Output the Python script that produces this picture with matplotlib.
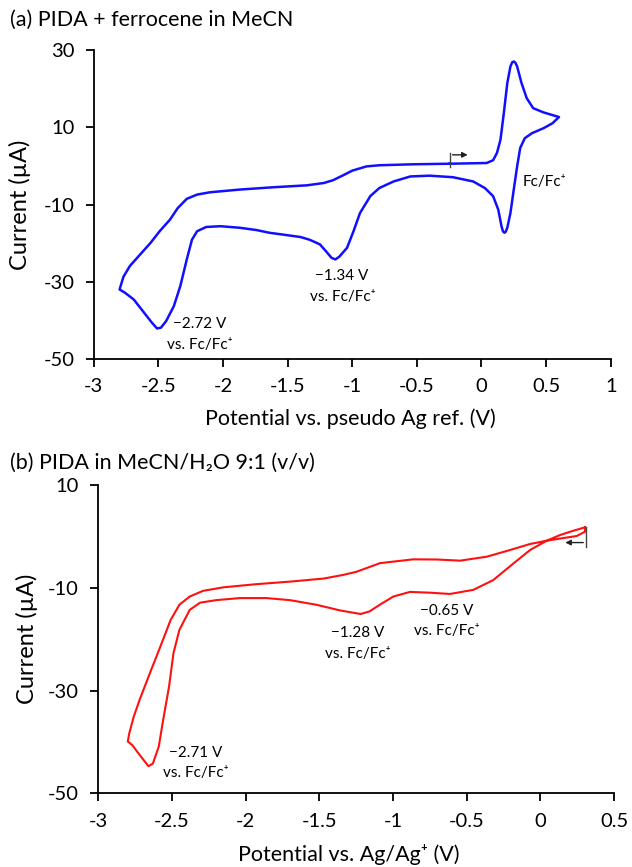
import matplotlib
matplotlib.use('Agg')
import matplotlib.pyplot as plt

plt.rcParams['font.family'] = ['Lato', 'DejaVu Sans']
plt.rcParams['axes.unicode_minus'] = False

# (a) PIDA + ferrocene in MeCN, scan starts at -0.25 V going positive
volt_a = [-0.245, 0.04, 0.09, 0.12, 0.147, 0.173, 0.20, 0.224, 0.238, 0.25, 0.262, 0.276,
          0.31, 0.35, 0.40, 0.48, 0.54, 0.60,
          0.55, 0.48, 0.39, 0.335, 0.30, 0.276, 0.25, 0.224, 0.20, 0.188, 0.178, 0.166,
          0.155, 0.13, 0.09, 0.026, -0.064, -0.22, -0.40, -0.55, -0.68, -0.79, -0.86,
          -0.94, -0.99, -1.04, -1.10, -1.13, -1.16, -1.20, -1.25, -1.33, -1.40, -1.53,
          -1.64, -1.74, -1.87, -2.02, -2.13, -2.20, -2.24, -2.28, -2.33, -2.38, -2.44,
          -2.48, -2.51, -2.55, -2.62, -2.69, -2.76, -2.80,
          -2.77, -2.72, -2.64, -2.56, -2.49, -2.41, -2.35, -2.28, -2.20, -2.10, -1.87,
          -1.61, -1.35, -1.22, -1.15, -1.07, -1.0, -0.89, -0.79, -0.53, -0.245]
curr_a = [0.6, 0.78, 1.5, 3.4, 6.8, 13.7, 21.5, 25.8, 26.9, 27.1, 26.8, 25.8,
          21.5, 17.6, 15.0, 13.9, 13.3, 12.7,
          11.1, 9.8, 8.5, 7.2, 4.7, -0.1, -6.1, -12.2, -16.0, -17.0, -17.3, -16.9,
          -15.6, -11.3, -7.8, -5.7, -4.0, -2.9, -2.5, -2.7, -4.0, -5.7, -7.8,
          -12.2, -16.9, -21.2, -23.5, -24.2, -23.8, -22.2, -20.3, -19.1, -18.4, -17.8,
          -17.3, -16.6, -16.0, -15.6, -15.8, -16.9, -19.1, -24.2, -31.1, -36.3, -40.2,
          -41.9, -42.1, -40.6, -37.6, -34.6, -32.8, -32.0,
          -28.7, -25.9, -22.9, -19.9, -16.9, -13.9, -10.9, -8.5, -7.4, -6.8, -6.1,
          -5.5, -5.0, -4.4, -3.7, -2.4, -1.2, -0.1, 0.2, 0.45, 0.6]

# (b) PIDA in MeCN/H2O 9:1, scan starts at 0.30 V going negative
volt_b = [0.303, 0.303, 0.247, 0.145, 0.043, -0.07, -0.18, -0.32, -0.455, -0.614, -0.75,
          -0.885, -0.998, -1.09, -1.16, -1.22, -1.36, -1.52, -1.70, -1.86, -2.04, -2.20,
          -2.31, -2.38, -2.45, -2.49, -2.52, -2.56, -2.59, -2.63, -2.66, -2.72, -2.77,
          -2.80,
          -2.79, -2.76, -2.72, -2.65, -2.58, -2.51, -2.45, -2.38, -2.29, -2.15, -1.93,
          -1.70, -1.47, -1.34, -1.25, -1.088, -0.862, -0.70, -0.545, -0.364, -0.206,
          -0.07, 0.043, 0.134, 0.224, 0.303]
curr_b = [1.77, 0.92, 0.08, -0.37, -0.84, -2.65, -5.2, -8.5, -10.4, -11.2, -10.95,
          -10.8, -11.7, -13.3, -14.6, -15.1, -14.4, -13.3, -12.4, -12.0, -12.0, -12.4,
          -12.9, -14.3, -18.2, -22.7, -29.2, -35.7, -40.9, -44.2, -44.7, -42.5, -40.6,
          -39.9,
          -38.3, -35.1, -31.8, -26.6, -21.5, -16.3, -13.3, -11.7, -10.6, -9.9, -9.3,
          -8.8, -8.2, -7.5, -6.9, -5.2, -4.46, -4.5, -4.72, -3.95, -2.65,
          -1.48, -0.84, 0.27, 1.1, 1.77]

ticks_x_a = [-3, -2.5, -2, -1.5, -1, -0.5, 0, 0.5, 1]
ticks_y_a = [30, 10, -10, -30, -50]
ticks_x_b = [-3, -2.5, -2, -1.5, -1, -0.5, 0, 0.5]
ticks_y_b = [10, -10, -30, -50]

fig = plt.figure(figsize=(6.32, 8.67), dpi=100)
ax1 = fig.add_axes([0.1483, 0.586, 0.818, 0.356])
ax2 = fig.add_axes([0.1556, 0.0849, 0.816, 0.3557])


def style_axes(ax, xt, yt, xlim, ylim, xlabel, xlab_x, xlab_y, ylab_x):
    ax.set_xlim(*xlim)
    ax.set_ylim(*ylim)
    ax.set_xticks(xt)
    ax.set_xticklabels([f'{v:g}' for v in xt])
    ax.set_yticks(yt)
    ax.set_yticklabels([f'{v:g}' for v in yt])
    ax.spines['top'].set_visible(False)
    ax.spines['right'].set_visible(False)
    ax.spines['left'].set_linewidth(1.3)
    ax.spines['bottom'].set_linewidth(1.3)
    ax.tick_params(direction='out', length=6, width=1.3, labelsize=14.5)
    ax.tick_params(axis='x', pad=8)
    ax.tick_params(axis='y', pad=8)
    ax.set_ylabel('Current (µA)', fontsize=17)
    ax.yaxis.set_label_coords(ylab_x, 0.5)
    ax.set_xlabel(xlabel, fontsize=15.5)
    ax.xaxis.set_label_coords(xlab_x, xlab_y)


ax1.plot(volt_a, curr_a, color='#1010ff', lw=1.8, solid_joinstyle='round')
style_axes(ax1, ticks_x_a, ticks_y_a, (-3, 1), (-50, 30),
           'Potential vs. pseudo Ag ref. (V)', 0.497, -0.16, -0.121)
ax1.plot([-0.245, -0.245], [-0.3, 3.4], color='#444444', lw=1.0)
ax1.annotate('', xy=(-0.085, 2.9), xytext=(-0.245, 2.9),
             arrowprops=dict(arrowstyle='-|>', color='#222222', lw=1.0, mutation_scale=8))
ax1.text(-2.18, -40.9, '−2.72 V', ha='center', va='center', fontsize=11)
ax1.text(-2.18, -46.4, 'vs. Fc/Fc⁺', ha='center', va='center', fontsize=11)
ax1.text(-1.08, -28.6, '−1.34 V', ha='center', va='center', fontsize=11)
ax1.text(-1.07, -34.0, 'vs. Fc/Fc⁺', ha='center', va='center', fontsize=11)
ax1.text(0.32, -4.2, 'Fc/Fc⁺', ha='left', va='center', fontsize=11)
fig.text(0.016, 0.977, '(a) PIDA + ferrocene in MeCN', fontsize=15.5, va='center')

ax2.plot(volt_b, curr_b, color='#ff1010', lw=1.5, solid_joinstyle='round')
style_axes(ax2, ticks_x_b, ticks_y_b, (-3, 0.5), (-50, 10),
           'Potential vs. Ag/Ag⁺ (V)', 0.485, -0.165, -0.117)
ax2.plot([0.31, 0.31], [-2.1, 1.9], color='#444444', lw=1.0)
ax2.annotate('', xy=(0.15, -1.2), xytext=(0.31, -1.2),
             arrowprops=dict(arrowstyle='-|>', color='#222222', lw=1.0, mutation_scale=8))
ax2.text(-2.34, -42.2, '−2.71 V', ha='center', va='center', fontsize=11)
ax2.text(-2.34, -46.1, 'vs. Fc/Fc⁺', ha='center', va='center', fontsize=11)
ax2.text(-1.24, -18.7, '−1.28 V', ha='center', va='center', fontsize=11)
ax2.text(-1.24, -22.8, 'vs. Fc/Fc⁺', ha='center', va='center', fontsize=11)
ax2.text(-0.635, -14.5, '−0.65 V', ha='center', va='center', fontsize=11)
ax2.text(-0.635, -18.4, 'vs. Fc/Fc⁺', ha='center', va='center', fontsize=11)
fig.text(0.016, 0.466, '(b) PIDA in MeCN/H₂O 9:1 (v/v)', fontsize=15.5, va='center')

fig.savefig('out.png', dpi=100)
